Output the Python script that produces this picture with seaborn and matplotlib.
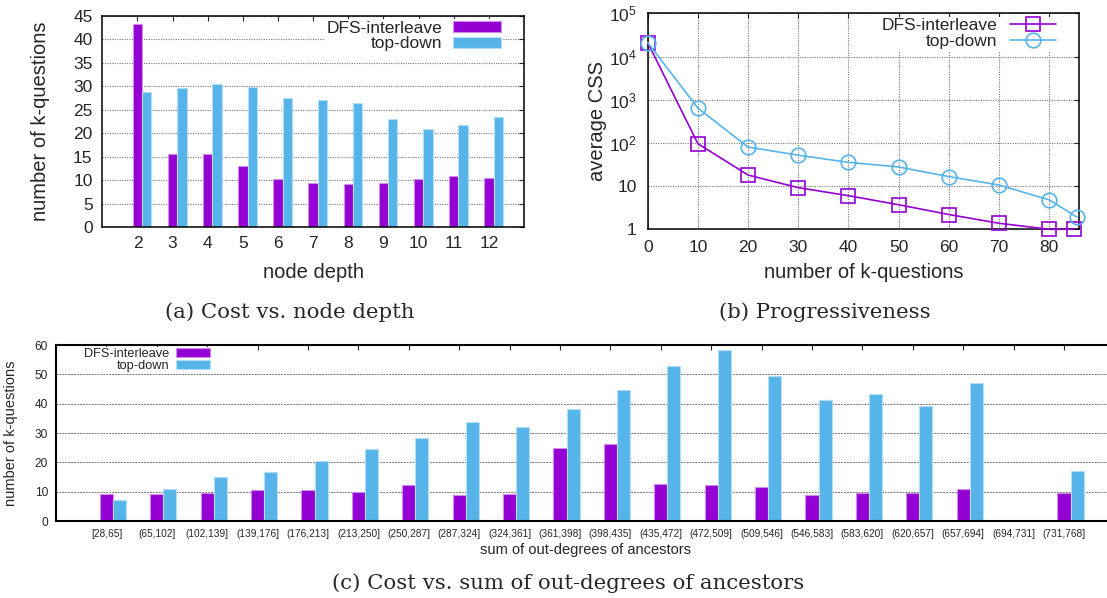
import numpy as np
import pandas as pd
import matplotlib
matplotlib.use("Agg")
import matplotlib.pyplot as plt
import matplotlib.colors as mcolors
from matplotlib.ticker import FixedLocator, NullLocator
import seaborn as sns

# ---------------- data ----------------
series_names = ["DFS-interleave", "top-down"]

depth_labels = ["2", "3", "4", "5", "6", "7", "8", "9", "10", "11", "12"]
depth_dfs = [43.3, 15.5, 15.6, 13.0, 10.2, 9.4, 9.1, 9.4, 10.2, 10.9, 10.4]
depth_td = [28.8, 29.7, 30.5, 29.9, 27.5, 27.0, 26.4, 22.9, 20.9, 21.7, 23.5]

prog_x_dfs = [0, 10, 20, 30, 40, 50, 60, 70, 80, 85]
prog_dfs = [21000, 96, 18, 9.2, 6.0, 3.7, 2.2, 1.38, 1.0, 1.0]
prog_x_td = [0, 10, 20, 30, 40, 50, 60, 70, 80, 85.5]
prog_td = [21000, 640, 80, 52, 35.5, 27.7, 16.6, 10.6, 4.8, 1.93]
prog_xticks = [0, 10, 20, 30, 40, 50, 60, 70, 80]
prog_yticks = [1, 10, 100, 1000, 10000, 100000]
prog_yticklabels = ["1", "10", "10$^{2}$", "10$^{3}$", "10$^{4}$", "10$^{5}$"]

bin_labels = ["[28,65]", "(65,102]", "(102,139]", "(139,176]", "(176,213]",
              "(213,250]", "(250,287]", "(287,324]", "(324,361]", "(361,398]",
              "(398,435]", "(435,472]", "(472,509]", "(509,546]", "(546,583]",
              "(583,620]", "(620,657]", "(657,694]", "(694,731]", "(731,768]"]
bin_dfs = [9.2, 9.2, 9.4, 10.5, 10.7, 9.9, 12.3, 8.75, 9.2, 24.8,
           26.25, 12.5, 12.3, 11.5, 8.9, 9.5, 9.5, 10.8, np.nan, 9.5]
bin_td = [7.2, 10.8, 15.0, 16.8, 20.3, 24.5, 28.3, 33.75, 32.0, 38.1,
          44.5, 52.7, 58.2, 49.4, 41.25, 43.3, 39.1, 47.0, np.nan, 17.0]

captions = ["(a) Cost vs. node depth", "(b) Progressiveness",
            "(c) Cost vs. sum of out-degrees of ancestors"]

# ---------------- style ----------------
PURPLE = "#9400D3"
BLUE = "#56B4E9"
sns.set_style("white")
plt.rcParams["font.family"] = ["Liberation Sans", "DejaVu Sans"]
plt.rcParams["mathtext.fontset"] = "custom"
plt.rcParams["mathtext.rm"] = "Liberation Sans"
plt.rcParams["mathtext.it"] = "Liberation Sans:italic"
plt.rcParams["mathtext.bf"] = "Liberation Sans:bold"

W, H = 1107, 598
fig = plt.figure(figsize=(W / 100, H / 100), dpi=100)


def box(left, top, right, bottom):
    return [left / W, 1 - bottom / H, (right - left) / W, (bottom - top) / H]


def bars(ax, labels, a, b, width):
    n = len(labels)
    df = pd.DataFrame({
        "cat": list(labels) * 2,
        "val": list(a) + list(b),
        "series": [series_names[0]] * n + [series_names[1]] * n,
    })
    sns.barplot(data=df, x="cat", y="val", hue="series", order=labels,
                hue_order=series_names, palette=[PURPLE, BLUE], width=width,
                gap=0, dodge=True, errorbar=None, saturation=1, ax=ax)
    for p in ax.patches:
        fc = np.array(mcolors.to_rgb(p.get_facecolor()))
        p.set_edgecolor(tuple(fc + (1 - fc) * 0.55))
        p.set_linewidth(0.8)
    offs = width / 4
    ax.xaxis.set_major_locator(FixedLocator(np.arange(n) - offs))
    ax.set_xticklabels(labels)
    return offs


grid_kw = dict(color="#777777", linestyle=(0, (1, 1.2)), linewidth=0.8)

# ---------------- (a) ----------------
axa = fig.add_axes(box(102.3, 15.7, 524, 227))
offs = bars(axa, depth_labels, depth_dfs, depth_td, 0.53)
axa.set_xlim(-1 - offs, len(depth_labels) - offs)
axa.set_ylim(0, 45)
axa.set_yticks(range(0, 46, 5))
axa.set_axisbelow(True)
axa.yaxis.grid(True, **grid_kw)
axa.tick_params(direction="in", top=True, right=True, length=3.5, width=0.8,
                labelsize=12.5, pad=7)
axa.tick_params(axis="x", pad=6.5)
axa.set_xlabel("node depth", fontsize=14.5)
axa.set_ylabel("number of k-questions", fontsize=14.5)
axa.xaxis.set_label_coords(0.5, -0.17)
axa.yaxis.set_label_coords(-0.124, 0.5)
h, l = axa.get_legend_handles_labels()
axa.legend(h, l, loc="upper right", bbox_to_anchor=(0.950, 0.985),
           markerfirst=False, frameon=True, facecolor="white", edgecolor="none",
           framealpha=1, fancybox=False, borderpad=0.1, borderaxespad=0,
           fontsize=12.5, handlelength=2.76, handleheight=0.57,
           handletextpad=0.63, labelspacing=0.05)

# ---------------- (b) ----------------
axb = fig.add_axes(box(647.7, 13.3, 1079.3, 229.3))
sns.lineplot(x=prog_x_dfs, y=prog_dfs, ax=axb, color=PURPLE, marker="s",
             markersize=10.5, markerfacecolor="none", markeredgecolor=PURPLE,
             markeredgewidth=1.2, linewidth=1.2, label=series_names[0],
             clip_on=False, zorder=3)
sns.lineplot(x=prog_x_td, y=prog_td, ax=axb, color=BLUE, marker="o",
             markersize=10.5, markerfacecolor="none", markeredgecolor=BLUE,
             markeredgewidth=1.2, linewidth=1.2, label=series_names[1],
             clip_on=False, zorder=4)
axb.set_yscale("log")
axb.set_ylim(1, 1e5)
axb.set_xlim(0, 86)
axb.xaxis.set_major_locator(FixedLocator(prog_xticks))
axb.yaxis.set_major_locator(FixedLocator(prog_yticks))
axb.yaxis.set_minor_locator(NullLocator())
axb.set_yticklabels(prog_yticklabels)
axb.set_axisbelow(True)
axb.grid(True, **grid_kw)
axb.tick_params(direction="in", top=True, right=True, length=3.5, width=0.8,
                labelsize=12.5, pad=8)
axb.set_xlabel("number of k-questions", fontsize=14.5)
axb.set_ylabel("average CSS", fontsize=14.5)
axb.xaxis.set_label_coords(0.5, -0.156)
axb.yaxis.set_label_coords(-0.094, 0.5)
h, l = axb.get_legend_handles_labels()
axb.legend(h, l, loc="upper right", bbox_to_anchor=(0.951, 0.985),
           markerfirst=False, frameon=True, facecolor="white", edgecolor="none",
           framealpha=1, fancybox=False, borderpad=0.1, borderaxespad=0,
           fontsize=12.5, handlelength=2.68, handletextpad=0.71,
           labelspacing=0.05, numpoints=1)

# ---------------- (c) ----------------
axc = fig.add_axes(box(56, 345, 56 + 21 * 50.4, 521))
offs = bars(axc, bin_labels, bin_dfs, bin_td, 0.52)
axc.set_xlim(-1 - offs, len(bin_labels) - offs)
axc.set_ylim(0, 60)
axc.set_yticks(range(0, 61, 10))
axc.set_axisbelow(True)
axc.yaxis.grid(True, color="#777777", linestyle=(0, (2, 1)), linewidth=0.7)
axc.tick_params(direction="in", top=True, right=True, length=3.5, width=0.8,
                pad=5.8)
axc.tick_params(axis="y", labelsize=8.6)
axc.tick_params(axis="x", labelsize=7.3)
axc.set_xlabel("sum of out-degrees of ancestors", fontsize=10.5)
axc.set_ylabel("number of k-questions", fontsize=10.5)
axc.xaxis.set_label_coords(0.5, -0.125)
axc.yaxis.set_label_coords(-0.0356, 0.5)
h, l = axc.get_legend_handles_labels()
axc.legend(h, l, loc="upper right", bbox_to_anchor=(0.1464, 0.99),
           markerfirst=False, frameon=True, facecolor="white", edgecolor="none",
           framealpha=1, fancybox=False, borderpad=0.1, borderaxespad=0,
           fontsize=9.2, handlelength=2.65, handleheight=0.6,
           handletextpad=0.52, labelspacing=0.0)

for ax, lw in ((axa, 1.1), (axb, 1.1), (axc, 1.5)):
    for s in ax.spines.values():
        s.set_visible(True)
        s.set_color("black")
        s.set_linewidth(lw)

# ---------------- captions ----------------
cap_kw = dict(family=["DejaVu Serif", "Liberation Serif"], fontsize=15.3,
              ha="center", va="center")
fig.text(290 / W, 1 - 312 / H, captions[0], **cap_kw)
fig.text(825 / W, 1 - 312 / H, captions[1], **cap_kw)
fig.text(568.5 / W, 1 - 583 / H, captions[2], **cap_kw)

fig.savefig("out.png", dpi=100)
